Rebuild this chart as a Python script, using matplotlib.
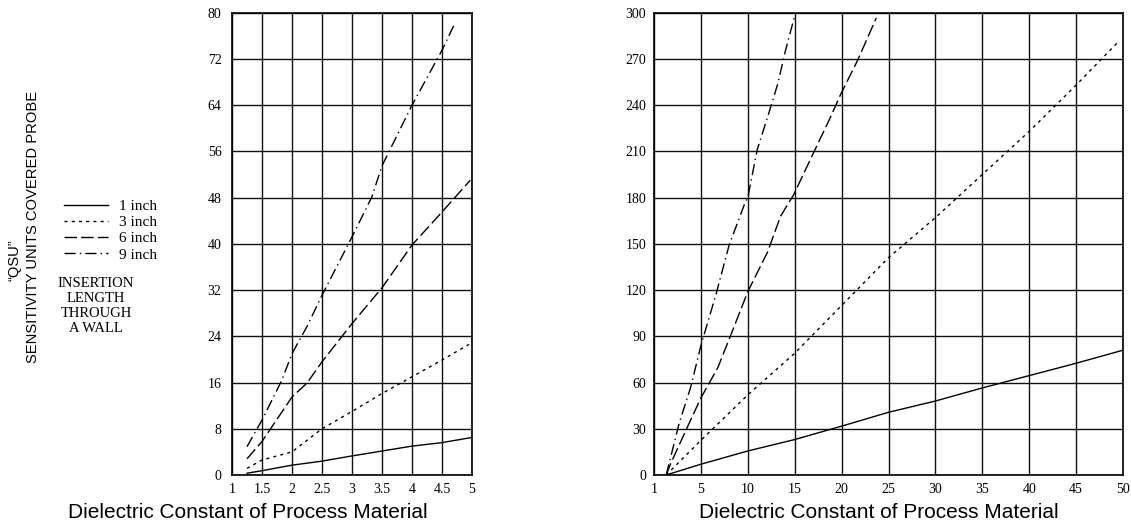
import numpy as np
import matplotlib
matplotlib.use("Agg")
import matplotlib.pyplot as plt

# data (QSU vs dielectric constant)
left_x_1in = [1.25, 1.5, 2.0, 2.5, 3.0, 3.5, 4.0, 4.5, 5.0]
left_y_1in = [0.3, 0.75, 1.7, 2.4, 3.3, 4.15, 5.0, 5.6, 6.5]
left_x_3in = [1.25, 1.5, 2.0, 2.5, 3.0, 3.5, 4.0, 4.5, 4.95]
left_y_3in = [1.15, 2.6, 4.0, 8.0, 11.0, 14.1, 17.0, 19.9, 22.6]
left_x_6in = [1.25, 1.5, 2.0, 2.25, 2.5, 3.0, 3.5, 4.0, 4.5, 4.97]
left_y_6in = [2.8, 5.8, 13.5, 15.9, 19.6, 26.2, 32.4, 39.8, 45.5, 51.0]
left_x_9in = [1.25, 1.5, 1.83, 2.0, 2.25, 2.5, 3.0, 3.33, 3.5, 4.0, 4.5, 4.72]
left_y_9in = [4.9, 9.5, 16.4, 21.0, 25.7, 31.1, 41.2, 48.1, 53.5, 64.0, 73.5, 78.3]

right_x_1in = [1.3, 5, 10, 15, 20, 25, 30, 35, 40, 45, 50]
right_y_1in = [0, 7, 15.6, 23, 31.7, 40.7, 48, 56.5, 64.5, 72.5, 81]
right_x_3in = [1.3, 5, 10, 15, 20, 25, 30, 35, 40, 45, 49.4]
right_y_3in = [0, 22.5, 52, 79, 110, 141, 167, 195, 223, 253, 280.5]
right_x_6in = [1.3, 1.8, 3.4, 5, 6.8, 8.2, 10, 12.1, 13.5, 14.9, 17, 18.8, 19.9, 21.7, 23.7]
right_y_6in = [0, 7.7, 29, 50, 69.6, 91, 119, 144.6, 168, 182, 209, 232, 247, 269, 296.6]
right_x_9in = [1.3, 2.7, 3.9, 5, 6.6, 8, 9.7, 10, 11, 12.2, 13.2, 14, 15]
right_y_9in = [0, 34, 56.7, 84, 117, 149, 176.6, 180, 211, 234, 254, 275, 298]

series_names = ["1 inch", "3 inch", "6 inch", "9 inch"]

left_xticks = [1, 1.5, 2, 2.5, 3, 3.5, 4, 4.5, 5]
left_xticklabels = ["1", "1.5", "2", "2.5", "3", "3.5", "4", "4.5", "5"]
left_yticks = [0, 8, 16, 24, 32, 40, 48, 56, 64, 72, 80]
right_xticks = [0, 5, 10, 15, 20, 25, 30, 35, 40, 45, 50]
right_xticklabels = ["1", "5", "10", "15", "20", "25", "30", "35", "40", "45", "50"]
right_yticks = [0, 30, 60, 90, 120, 150, 180, 210, 240, 270, 300]

serif = "Liberation Serif"
sans = "Liberation Sans"

styles = [
    dict(linestyle="-"),
    dict(linestyle=(0, (2.2, 3.0))),
    dict(linestyle=(0, (9, 3))),
    dict(linestyle=(0, (8, 3, 1, 3))),
]

W, H = 1131, 523
fig = plt.figure(figsize=(W / 100, H / 100), dpi=100)

ax1 = fig.add_axes([232 / W, 48 / H, 240 / W, 462.3 / H])
ax2 = fig.add_axes([654 / W, 48 / H, 469 / W, 462.3 / H])


def style_axes(ax, xlim, ylim, xticks, xlabels, yticks, pad_y):
    ax.set_xlim(*xlim)
    ax.set_ylim(*ylim)
    ax.set_xticks(xticks)
    ax.set_xticklabels(xlabels)
    ax.set_yticks(yticks)
    ax.set_yticklabels([str(v) for v in yticks])
    ax.tick_params(length=0, labelsize=10, colors="black")
    ax.tick_params(axis="x", pad=5.5)
    ax.tick_params(axis="y", pad=pad_y)
    for lab in ax.get_xticklabels() + ax.get_yticklabels():
        lab.set_fontfamily(serif)
    ax.grid(True, color="#111111", linewidth=1.0)
    ax.set_axisbelow(True)
    for sp in ax.spines.values():
        sp.set_linewidth(1.2)
        sp.set_color("black")


style_axes(ax1, (1, 5), (0, 80), left_xticks, left_xticklabels, left_yticks, 7.5)
style_axes(ax2, (0, 50), (0, 300), right_xticks, right_xticklabels, right_yticks, 5.5)

left_data = [(left_x_1in, left_y_1in), (left_x_3in, left_y_3in),
             (left_x_6in, left_y_6in), (left_x_9in, left_y_9in)]
right_data = [(right_x_1in, right_y_1in), (right_x_3in, right_y_3in),
              (right_x_6in, right_y_6in), (right_x_9in, right_y_9in)]

handles = []
for (xs, ys), st, name in zip(left_data, styles, series_names):
    h, = ax1.plot(xs, ys, color="black", linewidth=1.0, label=name, **st)
    handles.append(h)
for (xs, ys), st in zip(right_data, styles):
    ax2.plot(xs, ys, color="black", linewidth=1.0, **st)

fig.legend(handles=handles, loc="center left",
           bbox_to_anchor=(64 / W, 1 - 230.5 / H), frameon=False,
           prop=dict(family=serif, size=11), handlelength=2.85,
           handletextpad=0.75, labelspacing=0.16, borderpad=0,
           borderaxespad=0)

fig.text(96 / W, 1 - 306 / H, "INSERTION\nLENGTH\nTHROUGH\nA WALL",
         ha="center", va="center", multialignment="center",
         fontfamily=serif, fontsize=10.5, linespacing=1.2)

# y label, two lines
fig.text(15 / W, 1 - 260 / H, "\u201cQSU\u201d", rotation=90,
         ha="center", va="center", fontfamily=sans, fontsize=10.6)
fig.text(33 / W, 1 - 227 / H, "SENSITIVITY UNITS COVERED PROBE", rotation=90,
         ha="center", va="center", fontfamily=sans, fontsize=10.6)

# x labels
fig.text(248 / W, 1 - 518 / H, "Dielectric Constant of Process Material",
         ha="center", va="baseline", fontfamily=sans, fontsize=15)
fig.text(879 / W, 1 - 518 / H, "Dielectric Constant of Process Material",
         ha="center", va="baseline", fontfamily=sans, fontsize=15)

fig.savefig("out.png", dpi=100)
